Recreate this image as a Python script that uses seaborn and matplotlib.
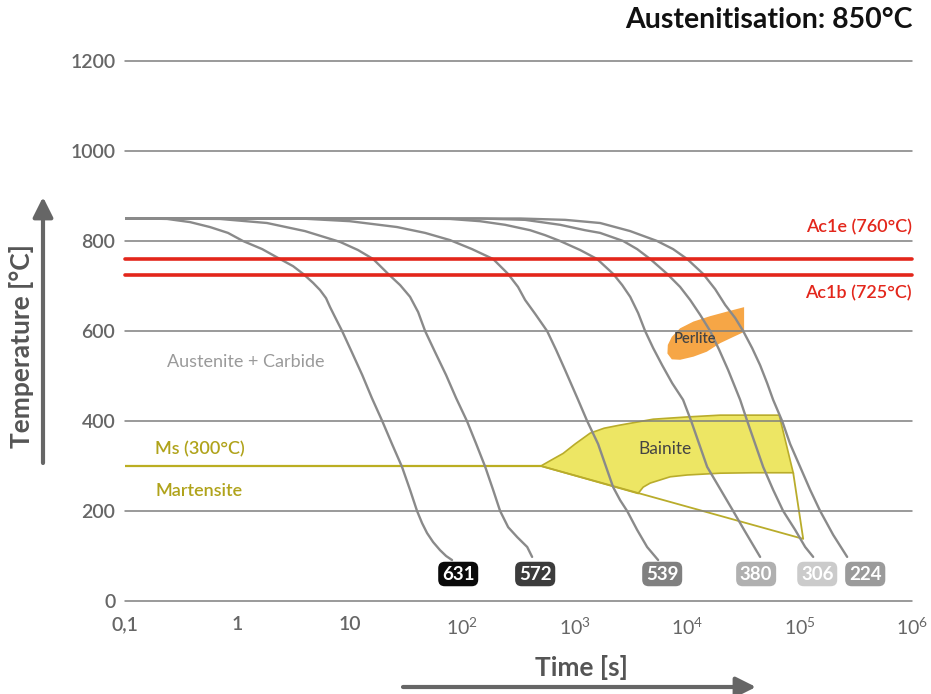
import matplotlib
matplotlib.use('Agg')
import matplotlib.pyplot as plt
import pandas as pd
import seaborn as sns

sns.set_theme(style='white')
plt.rcParams['font.family'] = ['Lato', 'DejaVu Sans']
plt.rcParams['mathtext.fontset'] = 'custom'
plt.rcParams['mathtext.rm'] = 'Lato'
plt.rcParams['mathtext.it'] = 'Lato'
plt.rcParams['mathtext.bf'] = 'Lato:bold'

# cooling curves: time [s] and temperature [°C]
curve_names = ['631', '572', '539', '380', '306', '224']
t_631 = [0.1, 0.151, 0.237, 0.379, 0.570, 0.824, 1.12, 1.66, 2.39, 3.13, 3.84, 4.71, 5.43, 6.14,
         6.67, 7.38, 8.53, 10.5, 12.9, 15.7, 19.4, 23.7, 29.1, 34.3, 39.6, 43.9, 48.6, 55.0,
         63.4, 71.8, 81.1]
T_631 = [850, 850, 849, 842, 831, 818, 800, 782, 760, 744, 727, 707, 691, 673,
         653, 631, 600, 551, 502, 451, 400, 349, 298, 247, 200, 173, 151, 131,
         113, 100, 91]
t_572 = [0.1, 0.237, 0.700, 1.83, 3.99, 8.18, 11.8, 16.1, 21.9, 28.0, 34.3, 40.5, 46.7, 57.3,
         71.8, 88.1, 110, 133, 160, 188, 217, 256, 308, 378, 418]
T_572 = [850, 850, 849, 840, 822, 798, 780, 760, 727, 702, 676, 642, 600, 553,
         502, 451, 400, 349, 298, 247, 200, 164, 142, 120, 98]
t_539 = [0.1, 3.61, 10.0, 26.3, 46.7, 77.8, 122, 188, 255, 313, 362, 445, 568, 683, 822,
         1072, 1290, 1614, 1901, 2197, 2535, 2927, 3591, 4406, 4989, 5521]
T_539 = [850, 850, 844, 831, 818, 802, 782, 760, 727, 698, 669, 638, 600, 558, 513,
         447, 400, 349, 298, 253, 224, 200, 158, 120, 104, 91]
t_380 = [0.1, 28.0, 77.8, 144, 240, 401, 545, 741, 1117, 1581, 2197, 2646, 3115, 3664,
         4229, 4989, 5997, 7365, 9205, 10860, 12790, 15070, 19670, 25660, 32110, 38650, 44570]
T_380 = [850, 850, 849, 844, 836, 824, 813, 800, 780, 760, 727, 702, 676, 640,
         600, 562, 524, 484, 447, 400, 349, 298, 249, 200, 158, 124, 98]
t_306 = [0.1, 144, 362, 741, 1236, 1682, 2698, 3591, 4690, 6637, 8656, 10640, 13050, 16030,
         19280, 23180, 29620, 34220, 40290, 47440, 58210, 71450, 91370, 112200, 132100]
T_306 = [850, 850, 847, 836, 824, 818, 800, 782, 760, 727, 698, 669, 636, 600,
         558, 513, 447, 400, 349, 298, 247, 200, 158, 120, 98]
t_224 = [0.1, 327, 822, 1682, 3115, 5408, 7499, 10000, 13870, 17750, 21790, 26740, 31480,
         37870, 44570, 51500, 58210, 69980, 82420, 101200, 124200, 152400, 199000, 265000]
T_224 = [850, 850, 847, 840, 822, 800, 782, 760, 727, 693, 658, 629, 600,
         562, 524, 484, 447, 400, 349, 298, 247, 200, 147, 98]
curve_times = [t_631, t_572, t_539, t_380, t_306, t_224]
curve_temps = [T_631, T_572, T_539, T_380, T_306, T_224]

# hardness labels at the curve ends
label_times = [92, 445, 6000, 41100, 143600, 383700]
label_temp = 60
label_colors = ['#0a0a0a', '#3c3c3c', '#808080', '#b0b0b0', '#cbcbcb', '#9b9b9b']

# bainite field (filled outline) and the open triangle below it
bainite_t = [500, 617, 789, 1009, 1371, 1827, 2535, 4989, 10000, 19670, 38650, 65900,
             87770, 38650, 19670, 10000, 7063, 5754, 4690, 4064, 3664]
bainite_T = [300, 313, 328, 349, 373, 384, 391, 404, 409, 413, 413, 413,
             285, 285, 284, 280, 276, 269, 262, 253, 239]
triangle_t = [500, 107700, 87770]
triangle_T = [300, 138, 285]

# perlite field
perlite_t = [32110, 32110, 25820, 19670, 14960, 11380, 8656, 7305, 6677, 6731, 7305, 8656,
             11380, 16030, 22540]
perlite_T = [653, 598, 587, 573, 554, 543, 536, 537, 550, 569, 587, 606, 621, 633, 643]

ac1e, ac1b, ms = 760, 725, 300
ms_end = 500
y_ticks = [0, 200, 400, 600, 800, 1000, 1200]
x_ticks = [0.1, 1, 10, 1e2, 1e3, 1e4, 1e5, 1e6]
x_ticklabels = ['0,1', '1', '10', r'$10^{2}$', r'$10^{3}$', r'$10^{4}$', r'$10^{5}$', r'$10^{6}$']

rows = []
for name, ts, Ts in zip(curve_names, curve_times, curve_temps):
    rows.append(pd.DataFrame({'time': ts, 'temp': Ts, 'curve': name}))
df = pd.concat(rows, ignore_index=True)

fig = plt.figure(figsize=(9.31, 6.94), dpi=100)
ax = fig.add_axes([125 / 931, 1 - 601 / 694, 787 / 931, 540 / 694])
ax.set_xscale('log')

# fields
ax.fill(perlite_t, perlite_T, color='#f6a646', lw=0, zorder=1)
ax.fill(bainite_t, bainite_T, facecolor='#ede664', edgecolor='#b9ac2b', lw=1.2, zorder=1)
ax.plot(triangle_t, triangle_T, color='#b9ac2b', lw=1.3, zorder=1)

# grid
for v in y_ticks:
    ax.axhline(v, color='#7f7f7f', lw=1.1, zorder=2, clip_on=False)

sns.lineplot(data=df, x='time', y='temp', units='curve', estimator=None, sort=False,
             color='#8a8a8a', lw=1.7, ax=ax, zorder=3)

ax.axhline(ac1e, color='#e3261b', lw=2.6, zorder=4, clip_on=False)
ax.axhline(ac1b, color='#e3261b', lw=2.6, zorder=4, clip_on=False)
ax.plot([0.1, ms_end], [ms, ms], color='#bbae22', lw=1.6, zorder=2)

for name, tl, c in zip(curve_names, label_times, label_colors):
    ax.text(tl, label_temp, name, ha='center', va='center', color='white',
            fontsize=13.5, fontweight='bold', zorder=6,
            bbox=dict(boxstyle='round,pad=0.2,rounding_size=0.35', fc=c, ec='none'))

# texts in the diagram
ax.text(1e6, 831, 'Ac1e (760°C)', color='#e3261b', fontsize=13, fontweight='semibold',
        ha='right', va='center')
ax.text(1e6, 684, 'Ac1b (725°C)', color='#e3261b', fontsize=13, fontweight='semibold',
        ha='right', va='center')
ax.text(0.237, 531, 'Austenite + Carbide', color='#9a9a9a', fontsize=13, va='center')
ax.text(0.185, 338, 'Ms (300°C)', color='#b0a31b', fontsize=13, fontweight='semibold', va='center')
ax.text(0.185, 244, 'Martensite', color='#b0a31b', fontsize=13, fontweight='semibold', va='center')
ax.text(6300, 338, 'Bainite', color='#444444', fontsize=12.5, ha='center', va='center', zorder=5)
ax.text(11800, 582, 'Perlite', color='#444444', fontsize=10.5, fontweight='semibold',
        ha='center', va='center', zorder=5)

ax.set_xlim(0.1, 1e6)
ax.set_ylim(0, 1200)
ax.set_xticks(x_ticks)
ax.set_xticklabels(x_ticklabels)
ax.set_xticks([], minor=True)
ax.set_yticks(y_ticks)
ax.tick_params(length=0, colors='#666666', labelsize=14)
ax.tick_params(axis='x', pad=11)
ax.tick_params(axis='y', pad=7)
for lab in ax.get_xticklabels() + ax.get_yticklabels():
    lab.set_fontweight('semibold')
ax.set_xlabel('')
ax.set_ylabel('')
sns.despine(ax=ax, left=True, bottom=True)

# title and axis captions with arrows
fig.text(913 / 931, 1 - 20 / 694, 'Austenitisation: 850°C', ha='right', va='center',
         fontsize=20.5, fontweight='bold', color='#111111')
fig.text(22 / 931, 1 - 346 / 694, 'Temperature [°C]', rotation=90, ha='center', va='center',
         fontsize=19, fontweight='bold', color='#555555')
fig.text(581 / 931, 1 - 667 / 694, 'Time [s]', ha='center', va='center',
         fontsize=19, fontweight='bold', color='#555555')
ax.annotate('', xy=(43 / 931, 1 - 197 / 694), xytext=(43 / 931, 1 - 463 / 694),
            xycoords='figure fraction', textcoords='figure fraction',
            arrowprops=dict(arrowstyle='-|>', mutation_scale=30, lw=3, color='#666666',
                            shrinkA=0, shrinkB=0))
ax.annotate('', xy=(756 / 931, 1 - 687 / 694), xytext=(403 / 931, 1 - 687 / 694),
            xycoords='figure fraction', textcoords='figure fraction',
            arrowprops=dict(arrowstyle='-|>', mutation_scale=30, lw=3, color='#666666',
                            shrinkA=0, shrinkB=0))

fig.savefig('out.png', dpi=100)
